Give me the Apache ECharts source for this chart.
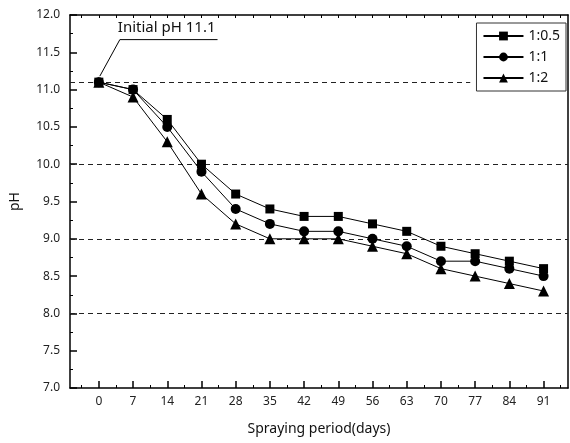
<!DOCTYPE html>
<html>
<head>
<meta charset="utf-8">
<script src="https://cdn.jsdelivr.net/npm/echarts@6/dist/echarts.min.js"></script>
<style>
  html, body { margin: 0; padding: 0; background: #fff; }
  #chart { width: 570px; height: 443px; }
</style>
</head>
<body>
<div id="chart"></div>
<script>
// Spraying period in days
const days = [0, 7, 14, 21, 28, 35, 42, 49, 56, 63, 70, 77, 84, 91];
// pH for each mixing ratio
const ratio05 = [11.1, 11.0, 10.6, 10.0, 9.6, 9.4, 9.3, 9.3, 9.2, 9.1, 8.9, 8.8, 8.7, 8.6];
const ratio1  = [11.1, 11.0, 10.5, 9.9, 9.4, 9.2, 9.1, 9.1, 9.0, 8.9, 8.7, 8.7, 8.6, 8.5];
const ratio2  = [11.1, 10.9, 10.3, 9.6, 9.2, 9.0, 9.0, 9.0, 8.9, 8.8, 8.6, 8.5, 8.4, 8.3];
const seriesNames = ['1:0.5', '1:1', '1:2'];
const symbols = ['rect', 'circle', 'triangle'];
// Reference levels
const refLevels = [10.0, 9.0, 8.0];
const initialPH = 11.1;
const annotationText = 'Initial pH 11.1';

const minorDays = [];
for (let d = -3.5; d < 96; d += 7) minorDays.push(d);
const allDays = days.concat(minorDays).sort((a, b) => a - b);

const FONT = 'Noto Sans';
const chart = echarts.init(document.getElementById('chart'));

const dashed = { color: '#222', type: [5, 4], width: 1 };

function makeSeries(name, data, symbol, idx) {
  const s = {
    name: name,
    type: 'line',
    data: days.map((d, i) => [d, data[i]]),
    symbol: symbol,
    symbolSize: symbol === 'triangle' ? 11 : (symbol === 'rect' ? 9 : 10),
    lineStyle: { color: '#000', width: 1 },
    itemStyle: { color: '#000' },
    z: 5 + idx,
    animation: false
  };
  if (idx === 0) {
    s.markLine = {
      silent: true,
      symbol: 'none',
      label: { show: false },
      lineStyle: dashed,
      data: refLevels.map(v => ({ yAxis: v })).concat([
        [{ coord: [-5.9, initialPH] }, { coord: [76, initialPH] }]
      ])
    };
  }
  return s;
}

const option = {
  backgroundColor: '#fff',
  animation: false,
  textStyle: { fontFamily: FONT },
  grid: { left: 67, right: 2, top: 15, bottom: 55 },
  legend: {
    orient: 'vertical',
    right: 4,
    top: 23,
    data: seriesNames,
    itemWidth: 40,
    itemHeight: 11,
    itemGap: 7,
    padding: [6, 6, 6, 6],
    borderColor: '#333',
    borderWidth: 1,
    textStyle: { fontFamily: FONT, fontSize: 14, color: '#111' }
  },
  xAxis: [
    {
      type: 'value', position: 'bottom', min: -5.9, max: 96,
      name: 'Spraying period(days)', nameLocation: 'middle', nameGap: 34,
      nameTextStyle: { fontFamily: FONT, fontSize: 14, color: '#111' },
      axisLine: { onZero: false, lineStyle: { color: '#000', width: 1.5 } },
      axisTick: { inside: true, length: 7, customValues: days, lineStyle: { color: '#000', width: 1.5 } },
      axisLabel: { customValues: days, fontSize: 12, color: '#222', margin: 8 },
      splitLine: { show: false }
    },
    {
      type: 'value', position: 'bottom', min: -5.9, max: 96,
      axisLine: { show: false, onZero: false },
      axisTick: { inside: true, length: 3, customValues: minorDays, lineStyle: { color: '#000' } },
      axisLabel: { show: false },
      splitLine: { show: false }
    },
    {
      type: 'value', position: 'top', min: -5.9, max: 96,
      axisLine: { onZero: false, lineStyle: { color: '#000', width: 1.5 } },
      axisTick: { inside: true, length: 3, customValues: allDays, lineStyle: { color: '#000' } },
      axisLabel: { show: false },
      splitLine: { show: false }
    }
  ],
  yAxis: [
    {
      type: 'value', position: 'left', min: 7, max: 12, interval: 0.5,
      name: 'pH', nameLocation: 'middle', nameGap: 48, nameRotate: 90,
      nameTextStyle: { fontFamily: FONT, fontSize: 14, color: '#111' },
      axisLine: { show: true, onZero: false, lineStyle: { color: '#000', width: 1.5 } },
      axisTick: { inside: true, length: 7, lineStyle: { color: '#000', width: 1.5 } },
      minorTick: { show: true, splitNumber: 2, length: 3, lineStyle: { color: '#000' } },
      axisLabel: { fontSize: 12, color: '#222', margin: 10, formatter: v => v.toFixed(1) },
      splitLine: { show: false }
    },
    {
      type: 'value', position: 'right', min: 7, max: 12, interval: 0.5,
      axisLine: { show: true, onZero: false, lineStyle: { color: '#000', width: 1.5 } },
      axisTick: { show: false },
      axisLabel: { show: false },
      splitLine: { show: false }
    }
  ],
  series: [
    makeSeries(seriesNames[0], ratio05, symbols[0], 0),
    makeSeries(seriesNames[1], ratio1, symbols[1], 1),
    makeSeries(seriesNames[2], ratio2, symbols[2], 2)
  ]
};

chart.setOption(option);

// Callout pointing at the starting value
function drawCallout() {
  const tip = chart.convertToPixel({ xAxisIndex: 0, yAxisIndex: 0 }, [0, initialPH]);
  const anchor = chart.convertToPixel({ xAxisIndex: 0, yAxisIndex: 0 }, [4.3, 11.67]);
  const textW = echarts.format.getTextRect
    ? echarts.format.getTextRect(annotationText, '15px ' + FONT).width
    : 99;
  chart.setOption({
    graphic: [
      {
        type: 'text', left: anchor[0] - 2, top: anchor[1] - 19,
        style: { text: annotationText, font: '15px "' + FONT + '"', fill: '#111' }
      },
      {
        type: 'polyline',
        shape: { points: [[anchor[0] + textW, anchor[1]], [anchor[0], anchor[1]], [tip[0] + 1, tip[1] - 6]] },
        style: { stroke: '#000', lineWidth: 1, fill: null }
      }
    ]
  });
}
drawCallout();
</script>
</body>
</html>
